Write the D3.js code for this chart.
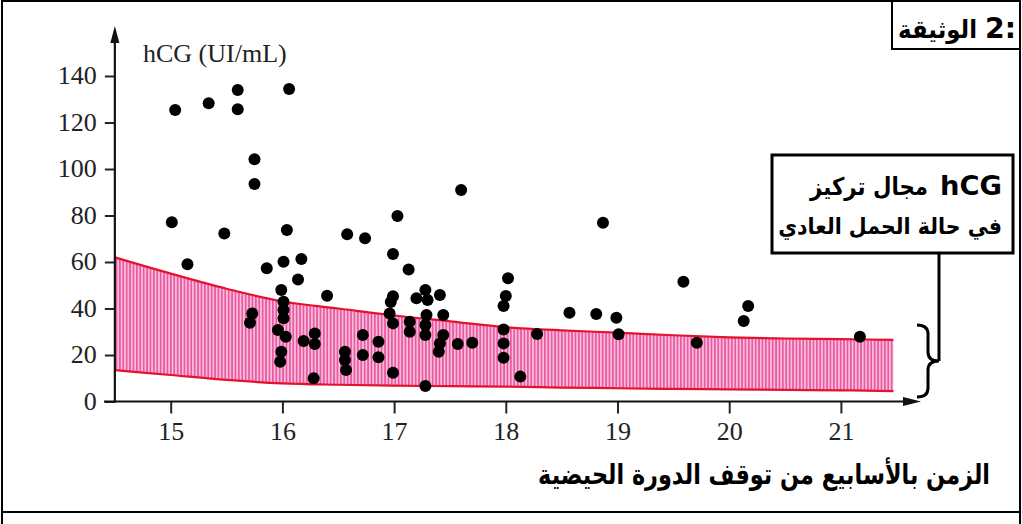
<!DOCTYPE html>
<html>
<head>
<meta charset="utf-8">
<script src="https://cdn.jsdelivr.net/npm/d3@7"></script>
<style>
	body { margin: 0; background: #fff; }
	svg { display: block; }
	.ar { font-family: "DejaVu Sans", sans-serif; font-weight: bold; fill: #000; }
</style>
</head>
<body>
<svg class="chart" width="1022" height="524"></svg>
<script>
// dots: week since last period, hCG value
var weeks = [15.04, 15.34, 15.60, 15.60, 16.06, 15.75, 15.75, 15.01, 15.48, 16.04,
	15.15, 16.01, 16.17, 15.86, 16.58, 16.74, 16.14, 15.99, 16.40, 16.01,
	16.01, 15.73, 16.01, 15.71, 15.96, 16.03, 16.19, 16.29, 16.29, 15.99,
	15.98, 16.28, 16.56, 16.56, 16.57, 16.72, 16.72, 16.86, 16.86, 17.03,
	16.99, 17.13, 16.99, 16.97, 17.28, 17.20, 17.30, 17.41, 16.96, 16.99,
	17.14, 17.14, 17.29, 17.28, 17.28, 17.44, 17.44, 17.41, 17.40, 17.57,
	16.99, 17.28, 17.60, 18.02, 18.00, 17.98, 17.70, 17.98, 17.98, 17.98,
	18.13, 18.28, 18.57, 18.87, 18.81, 18.99, 19.01, 19.59, 19.71, 20.17,
	20.13, 21.17];
var hcg = [125.4, 128.3, 134, 125.7, 134.4, 104.2, 93.5, 77.1, 72.3, 73.8,
	59, 60.1, 61.3, 57.3, 71.9, 70.2, 52.5, 48, 45.5, 42.9,
	39.4, 37.9, 35.8, 33.9, 30.8, 27.9, 26, 29.3, 24.7, 21.4,
	17.1, 10, 21.4, 17.8, 13.5, 28.6, 20, 25.7, 19, 79.8,
	63.4, 56.8, 45.3, 42.8, 48, 44.4, 43.7, 45.8, 37.9, 33.6,
	34.3, 30, 37.2, 32.9, 28.6, 37.2, 28.6, 25, 21.4, 24.7,
	12.4, 6.7, 91, 53, 45.4, 41.1, 25.3, 31, 25, 18.8,
	10.7, 29, 38.2, 76.9, 37.6, 36, 28.9, 51.5, 25.3, 41.1,
	34.6, 27.9];

// normal pregnancy range (band)
var bandWeeks = [14.5, 15, 15.5, 16, 16.5, 17, 17.5, 18, 18.5, 19, 19.5, 20, 20.5, 21, 21.47];
var bandUpper = [62, 55, 48.5, 43, 40, 37, 34.5, 32, 30.6, 29.6, 28.5, 27.6, 27.1, 26.8, 26.5];
var bandLower = [13.5, 11.4, 9.3, 7.8, 7.2, 6.8, 6.6, 6.4, 6.0, 5.7, 5.4, 5.2, 5.0, 4.8, 4.5];

var yTicks = [0, 20, 40, 60, 80, 100, 120, 140];
var xTicks = [15, 16, 17, 18, 19, 20, 21];

var yTitle = "hCG (UI/mL)";
var xTitle = "الزمن بالأسابيع من توقف الدورة الحيضية";
var docTitle = ["الوثيقة", "2:"];
var legendLine1 = ["مجال تركيز", "hCG"];
var legendLine2 = "في حالة الحمل العادي";

var svg = d3.select(".chart");

var x = d3.scaleLinear().domain([15, 21]).range([170.7, 840.9]);
var y = d3.scaleLinear().domain([0, 140]).range([401.5, 76]);

// put a text with its right end at xr and scale its font so it spans width w
function fitText(t, xr, yb, w, size, cls, sy) {
	var el = svg.append("text")
		.attr("class", cls)
		.attr("x", xr).attr("y", yb)
		.attr("text-anchor", "end")
		.attr("font-size", size)
		.text(t);
	var len = el.node().getComputedTextLength();
	if (len > 0) el.attr("font-size", size * w / len);
	if (sy) el.attr("transform", "translate(0," + yb + ") scale(1," + sy + ") translate(0," + (-yb) + ")");
	return el;
}

// frame
svg.append("rect")
	.attr("x", 2).attr("y", 1).attr("width", 1018).attr("height", 511)
	.attr("fill", "none").attr("stroke", "#000").attr("stroke-width", 2);
svg.append("path")
	.attr("d", "M2,512V524M1020,512V524")
	.attr("stroke", "#000").attr("stroke-width", 2);

// stripes pattern for band
var defs = svg.append("defs");
var pat = defs.append("pattern")
	.attr("id", "stripes")
	.attr("patternUnits", "userSpaceOnUse")
	.attr("width", 3.4).attr("height", 10);
pat.append("rect").attr("width", 3.4).attr("height", 10).attr("fill", "#f8bcd9");
pat.append("rect").attr("width", 1.7).attr("height", 10).attr("fill", "#ea5aa3");

var band = bandWeeks.map(function (w, i) { return { w: w, lo: bandLower[i], hi: bandUpper[i] }; });

svg.append("path")
	.datum(band)
	.attr("fill", "url(#stripes)")
	.attr("d", d3.area()
		.curve(d3.curveMonotoneX)
		.x(function (d) { return x(d.w); })
		.y0(function (d) { return y(d.lo); })
		.y1(function (d) { return y(d.hi); }));

["hi", "lo"].forEach(function (k) {
	svg.append("path")
		.datum(band)
		.attr("fill", "none")
		.attr("stroke", "#e3122e")
		.attr("stroke-width", 2.2)
		.attr("d", d3.line()
			.curve(d3.curveMonotoneX)
			.x(function (d) { return x(d.w); })
			.y(function (d) { return y(d[k]); }));
});

// axes
var yAxis = svg.append("g")
	.attr("transform", "translate(" + x(14.5) + ",0)")
	.call(d3.axisLeft(y).tickValues(yTicks).tickSize(10).tickPadding(8).tickFormat(d3.format("d")));
var xAxis = svg.append("g")
	.attr("transform", "translate(0," + y(0) + ")")
	.call(d3.axisBottom(x).tickValues(xTicks).tickSize(12).tickPadding(6).tickFormat(d3.format("d")));
yAxis.select(".domain").remove();
xAxis.select(".domain").remove();
svg.selectAll(".tick line").attr("stroke", "#223").attr("stroke-width", 2);
svg.selectAll(".tick text")
	.attr("font-family", "Liberation Serif, serif")
	.attr("font-size", 26)
	.attr("fill", "#222");
yAxis.selectAll(".tick text").attr("dy", "0.3em");
xAxis.selectAll(".tick text").attr("dy", "0.8em");

svg.append("line")
	.attr("x1", x(14.5)).attr("x2", x(14.5))
	.attr("y1", y(0) + 1).attr("y2", 40)
	.attr("stroke", "#111").attr("stroke-width", 2.2);
svg.append("line")
	.attr("x1", 104).attr("x2", 908)
	.attr("y1", y(0)).attr("y2", y(0))
	.attr("stroke", "#111").attr("stroke-width", 2.2);
svg.append("path")
	.attr("d", d3.line()([[x(14.5), 26], [x(14.5) - 4.5, 43], [x(14.5) + 4.5, 43]]) + "Z")
	.attr("fill", "#111");
svg.append("path")
	.attr("d", d3.line()([[921, y(0)], [903, y(0) - 4.5], [903, y(0) + 4.5]]) + "Z")
	.attr("fill", "#111");

svg.append("text")
	.attr("x", 143).attr("y", 62)
	.attr("font-family", "Liberation Serif, serif")
	.attr("font-size", 26)
	.attr("fill", "#222")
	.text(yTitle);

// dots
svg.append("g")
	.selectAll("circle")
	.data(weeks)
	.enter().append("circle")
	.attr("cx", function (d) { return x(d); })
	.attr("cy", function (d, i) { return y(hcg[i]); })
	.attr("r", 6)
	.attr("fill", "#000");

// x axis title
fitText(xTitle, 990, 484, 452, 24, "ar", 1.25);

// document label box
svg.append("rect")
	.attr("x", 892).attr("y", 1).attr("width", 128).attr("height", 48)
	.attr("fill", "#fff").attr("stroke", "#000").attr("stroke-width", 2);
fitText(docTitle[1], 1016, 38, 31, 24, "ar");
fitText(docTitle[0], 977, 38, 79, 24, "ar", 1.1);

// legend box, connector and brace
svg.append("rect")
	.attr("x", 772).attr("y", 155).attr("width", 241).attr("height", 98)
	.attr("fill", "#fff").attr("stroke", "#000").attr("stroke-width", 3);
fitText(legendLine1[1], 1002, 195, 62, 24, "ar");
fitText(legendLine1[0], 928, 195, 118, 24, "ar", 1.15);
fitText(legendLine2, 1002, 234, 224, 24, "ar", 1.1);

svg.append("line")
	.attr("x1", 939).attr("x2", 939)
	.attr("y1", 253).attr("y2", 361)
	.attr("stroke", "#000").attr("stroke-width", 3);
svg.append("path")
	.attr("d", "M917,325 Q928,325 928,334 L928,352 Q928,361 939,361 Q928,361 928,370 L928,388 Q928,397 917,397")
	.attr("fill", "none").attr("stroke", "#000").attr("stroke-width", 3);
</script>
</body>
</html>
